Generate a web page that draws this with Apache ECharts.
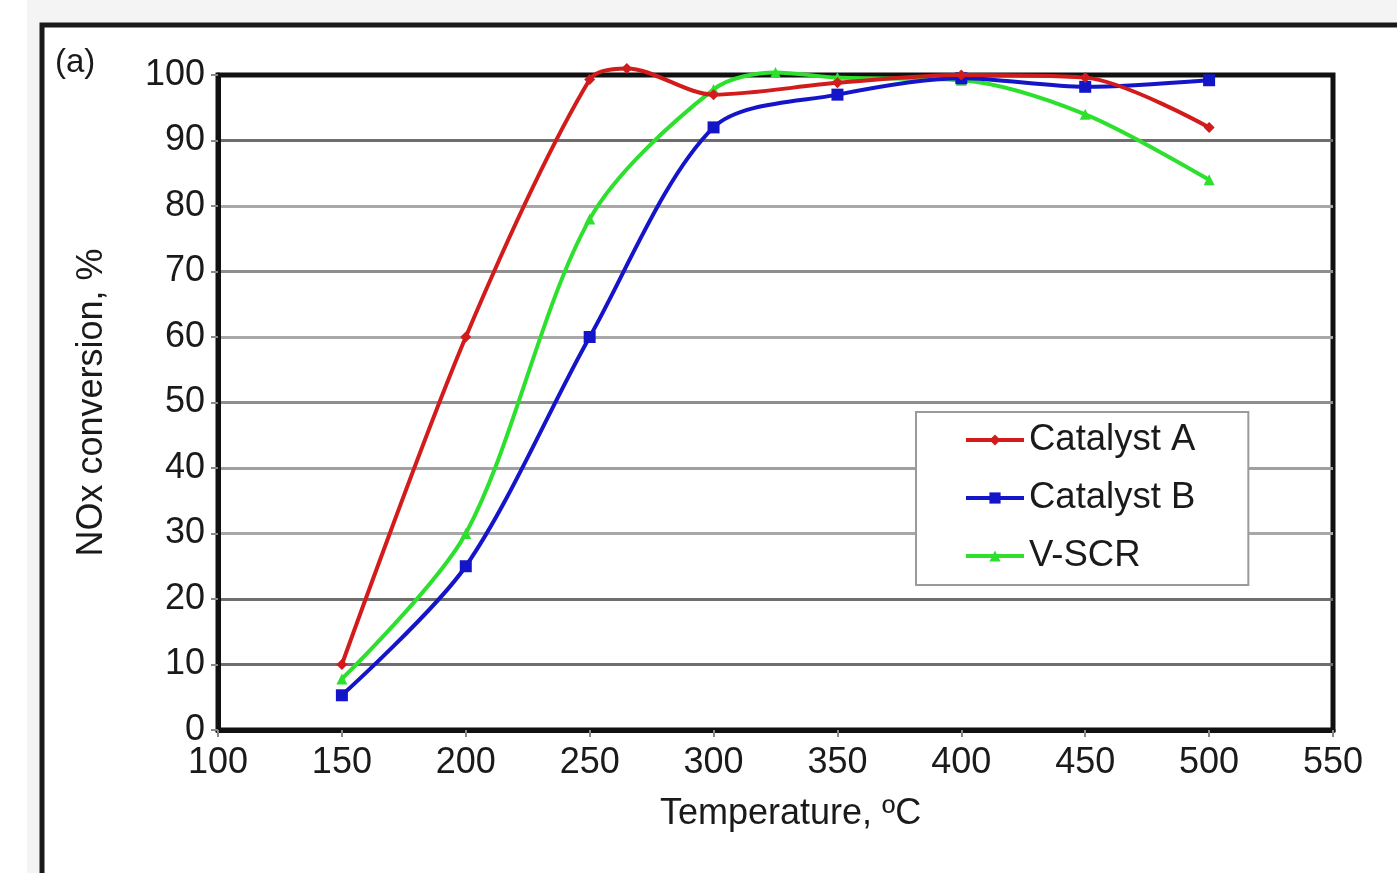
<!DOCTYPE html>
<html>
<head>
<meta charset="utf-8">
<script src="https://cdn.jsdelivr.net/npm/echarts@6/dist/echarts.min.js"></script>
<style>
html,body{margin:0;padding:0;background:#ffffff;}
#chart{width:1397px;height:873px;}
</style>
</head>
<body>
<div id="chart"></div>
<script>
// Data
var seriesNames = ['Catalyst A', 'Catalyst B', 'V-SCR'];
var catalystA = [[150, 10], [200, 60], [250, 99.3], [265, 101], [300, 97], [350, 98.8], [400, 100], [450, 99.6], [500, 92]];
var catalystB = [[150, 5.3], [200, 25], [250, 60], [300, 92], [350, 97], [400, 99.5], [450, 98.2], [500, 99.2]];
var vscr = [[150, 7.8], [200, 30], [250, 78], [300, 97.8], [325, 100.4], [350, 99.6], [400, 99.2], [450, 94], [500, 84]];
var xTicks = {min: 100, max: 550, interval: 50};
var yTicks = {min: 0, max: 100, interval: 10};

var chart = echarts.init(document.getElementById('chart'));
var font = '"Liberation Sans", Arial, sans-serif';
var colors = ['#d21c1c', '#1414c8', '#2ee02e'];
var symbols = ['diamond', 'rect', 'triangle'];
var datasets = [catalystA, catalystB, vscr];
var gridColors = ['#888', '#6e6e6e', '#6e6e6e', '#a8a8a8', '#a0a0a0', '#8e8e8e', '#a8a8a8', '#8e8e8e', '#a8a8a8', '#6e6e6e', '#111'];

chart.setOption({
  backgroundColor: '#ffffff',
  animation: false,
  textStyle: {fontFamily: font},
  graphic: [
    {type: 'rect', left: 27, top: 0, shape: {width: 1370, height: 24}, style: {fill: '#f4f4f4'}, z: -1},
    {type: 'rect', left: 27, top: 24, shape: {width: 14, height: 849}, style: {fill: '#f4f4f4'}, z: -1},
    {type: 'polyline', shape: {points: [[42, 873], [42, 25], [1397, 25]]}, style: {stroke: '#1a1a1a', lineWidth: 5, fill: null}},
    {type: 'text', left: 55, top: 46, style: {text: '(a)', font: '33px ' + font, fill: '#1a1a1a'}}
  ],
  grid: {left: 218, top: 75, right: 64, bottom: 143, show: true, borderColor: '#111', borderWidth: 5, backgroundColor: 'transparent'},
  legend: {
    orient: 'vertical',
    left: 916, top: 412,
    data: seriesNames,
    backgroundColor: '#fff',
    borderColor: '#9a9a9a', borderWidth: 2,
    padding: [8, 53, 9, 48],
    itemWidth: 58, itemHeight: 14, itemGap: 18,
    lineStyle: {width: 4},
    textStyle: {fontSize: 36.5, color: '#1a1a1a', lineHeight: 40, fontFamily: font}
  },
  xAxis: {
    type: 'value', min: xTicks.min, max: xTicks.max, interval: xTicks.interval,
    name: 'Temperature, ºC', nameLocation: 'middle', nameGap: 66,
    nameTextStyle: {fontSize: 36, color: '#1a1a1a', padding: [0, 0, 0, 30]},
    axisLine: {show: true, lineStyle: {color: '#111', width: 5}},
    axisTick: {show: true, length: 7, lineStyle: {color: '#888', width: 2}},
    axisLabel: {fontSize: 36, color: '#1a1a1a', margin: 15},
    splitLine: {show: false}
  },
  yAxis: {
    type: 'value', min: yTicks.min, max: yTicks.max, interval: yTicks.interval,
    name: 'NOx conversion, %', nameLocation: 'middle', nameGap: 108, nameRotate: 90,
    nameTextStyle: {fontSize: 36, color: '#1a1a1a'},
    axisLine: {show: true, lineStyle: {color: '#111', width: 5}},
    axisTick: {show: true, length: 7, lineStyle: {color: '#888', width: 2}},
    axisLabel: {fontSize: 36, color: '#1a1a1a', margin: 13},
    splitLine: {show: true, lineStyle: {color: gridColors, width: 3}}
  },
  series: seriesNames.map(function (n, i) {
    return {
      name: n, type: 'line', data: datasets[i], smooth: 0.3, clip: false,
      symbol: symbols[i], symbolSize: i === 1 ? 12 : 11, showSymbol: true,
      lineStyle: {color: colors[i], width: 4},
      itemStyle: {color: colors[i]},
      z: 3 - i
    };
  })
});
</script>
</body>
</html>
